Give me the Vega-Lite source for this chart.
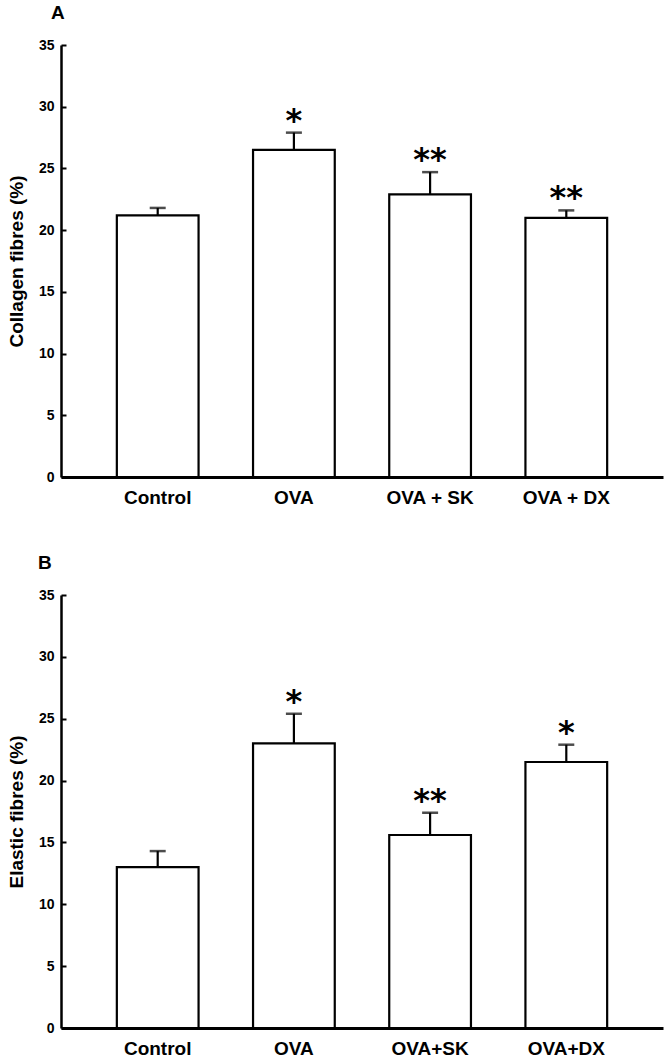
{
  "$schema": "https://vega.github.io/schema/vega-lite/v6.json",
  "padding": {"left": 7, "top": 4, "right": 5, "bottom": 0},
  "spacing": 47,
  "datasets": {
    "collagen": [
      {"group": "Control", "mean": 21.2, "upper": 21.8, "sig": ""},
      {"group": "OVA", "mean": 26.5, "upper": 27.9, "sig": "*"},
      {"group": "OVA + SK", "mean": 22.9, "upper": 24.7, "sig": "**"},
      {"group": "OVA + DX", "mean": 21.0, "upper": 21.6, "sig": "**"}
    ],
    "elastic": [
      {"group": "Control", "mean": 13.0, "upper": 14.3, "sig": ""},
      {"group": "OVA", "mean": 23.0, "upper": 25.4, "sig": "*"},
      {"group": "OVA+SK", "mean": 15.6, "upper": 17.4, "sig": "**"},
      {"group": "OVA+DX", "mean": 21.5, "upper": 22.9, "sig": "*"}
    ]
  },
  "vconcat": [
    {
      "data": {"name": "collagen"},
      "title": {"text": "A", "dx": -10},
      "width": 602,
      "height": 432,
      "encoding": {
        "x": {
          "field": "group", "type": "nominal", "sort": null,
          "scale": {"paddingInner": 0.4, "paddingOuter": 0.41},
          "axis": {"title": null}
        }
      },
      "layer": [
        {
          "mark": {"type": "bar", "fill": "white", "stroke": "black", "strokeWidth": 2.2},
          "encoding": {
            "y": {
              "field": "mean", "type": "quantitative",
              "scale": {"domain": [0, 35], "nice": false},
              "axis": {"title": "Collagen fibres (%)", "values": [0, 5, 10, 15, 20, 25, 30, 35]}
            }
          }
        },
        {
          "mark": {"type": "rule", "strokeWidth": 2.2, "color": "black"},
          "encoding": {
            "y": {"field": "mean", "type": "quantitative"},
            "y2": {"field": "upper"}
          }
        },
        {
          "mark": {"type": "tick", "size": 16, "thickness": 2.5, "color": "black"},
          "encoding": {"y": {"field": "upper", "type": "quantitative"}}
        },
        {
          "mark": {"type": "text", "font": "DejaVu Sans", "fontWeight": "bold", "fontSize": 32, "baseline": "middle", "dy": -12, "color": "black"},
          "encoding": {
            "y": {"field": "upper", "type": "quantitative"},
            "text": {"field": "sig"}
          }
        }
      ]
    },
    {
      "data": {"name": "elastic"},
      "title": {"text": "B", "dx": -23},
      "width": 602,
      "height": 433,
      "encoding": {
        "x": {
          "field": "group", "type": "nominal", "sort": null,
          "scale": {"paddingInner": 0.4, "paddingOuter": 0.41},
          "axis": {"title": null}
        }
      },
      "layer": [
        {
          "mark": {"type": "bar", "fill": "white", "stroke": "black", "strokeWidth": 2.2},
          "encoding": {
            "y": {
              "field": "mean", "type": "quantitative",
              "scale": {"domain": [0, 35], "nice": false},
              "axis": {"title": "Elastic fibres (%)", "values": [0, 5, 10, 15, 20, 25, 30, 35]}
            }
          }
        },
        {
          "mark": {"type": "rule", "strokeWidth": 2.2, "color": "black"},
          "encoding": {
            "y": {"field": "mean", "type": "quantitative"},
            "y2": {"field": "upper"}
          }
        },
        {
          "mark": {"type": "tick", "size": 16, "thickness": 2.5, "color": "black"},
          "encoding": {"y": {"field": "upper", "type": "quantitative"}}
        },
        {
          "mark": {"type": "text", "font": "DejaVu Sans", "fontWeight": "bold", "fontSize": 32, "baseline": "middle", "dy": -12, "color": "black"},
          "encoding": {
            "y": {"field": "upper", "type": "quantitative"},
            "text": {"field": "sig"}
          }
        }
      ]
    }
  ],
  "config": {
    "font": "Liberation Sans",
    "view": {"stroke": null},
    "title": {"fontSize": 19, "fontWeight": "bold", "anchor": "start", "frame": "group", "offset": 15, "color": "black"},
    "axis": {
      "grid": false,
      "domainColor": "black",
      "tickColor": "black",
      "labelColor": "black",
      "titleColor": "black",
      "labelFont": "Liberation Sans",
      "titleFont": "Liberation Sans",
      "labelFontWeight": "bold",
      "titleFontWeight": "bold"
    },
    "axisX": {"domainWidth": 3, "ticks": false, "labelAngle": 0, "labelFontSize": 19, "labelPadding": 11},
    "axisY": {"domainWidth": 2.5, "tickSize": -5, "tickWidth": 2, "labelFontSize": 14, "labelPadding": 12, "titleFontSize": 19, "titlePadding": 12}
  }
}
